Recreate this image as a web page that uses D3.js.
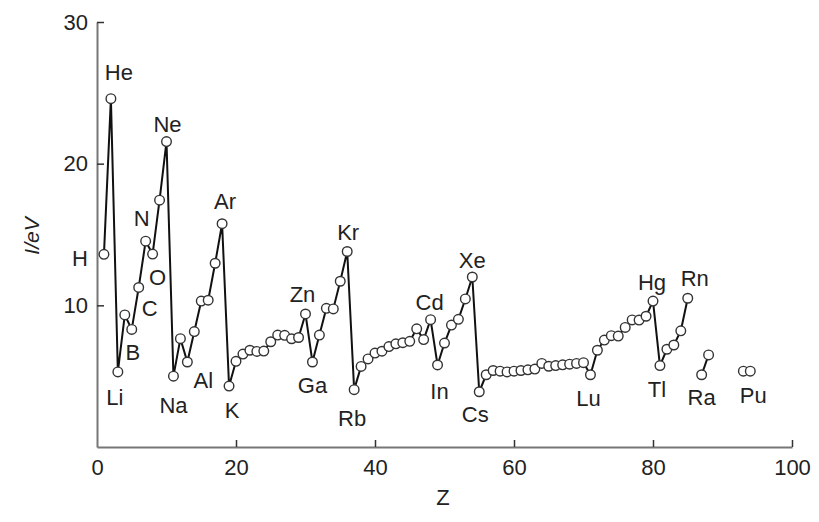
<!DOCTYPE html>
<html>
<head>
<meta charset="utf-8">
<script src="https://cdn.jsdelivr.net/npm/d3@7"></script>
<style>
  html, body { margin: 0; padding: 0; background: #fff; }
  svg { display: block; }
  text { font-family: "Liberation Sans", Arial, sans-serif; fill: #222; }
</style>
</head>
<body>
<svg id="chart" width="819" height="522"></svg>
<script>
// ---- Data ----
// Main series: atomic number Z and first ionization energy I (eV)
const mainZ = [1,2,3,4,5,6,7,8,9,10,
  11,12,13,14,15,16,17,18,19,20,
  21,22,23,24,25,26,27,28,29,30,
  31,32,33,34,35,36,37,38,39,40,
  41,42,43,44,45,46,47,48,49,50,
  51,52,53,54,55,56,57,58,59,60,
  61,62,63,64,65,66,67,68,69,70,
  71,72,73,74,75,76,77,78,79,80,
  81,82,83,84,85];
const mainI = [13.6,24.59,5.3,9.32,8.3,11.26,14.53,13.62,17.42,21.56,
  5.0,7.65,6.0,8.15,10.3,10.36,12.97,15.76,4.3,6.05,
  6.56,6.83,6.75,6.77,7.43,7.9,7.88,7.64,7.73,9.39,
  6.0,7.9,9.79,9.75,11.7,13.8,4.05,5.69,6.22,6.63,
  6.76,7.09,7.28,7.36,7.46,8.34,7.58,8.99,5.79,7.34,
  8.61,9.01,10.45,12.0,3.9,5.1,5.4,5.35,5.3,5.35,
  5.4,5.45,5.5,5.9,5.7,5.75,5.8,5.85,5.9,5.95,
  5.1,6.83,7.55,7.86,7.83,8.44,8.97,8.96,9.23,10.3,
  5.75,6.9,7.2,8.2,10.5];
// Isolated pairs
const pairAZ = [87, 88];
const pairAI = [5.1, 6.5];
const pairBZ = [93, 94];
const pairBI = [5.35, 5.35];

// Element labels and the Z of the point each belongs to
const labelText = ["H","He","Li","B","C","N","O","Ne","Na","Al","Ar","K",
  "Zn","Ga","Kr","Rb","Cd","In","Xe","Cs","Lu","Hg","Tl","Rn","Ra","Pu"];
const labelZ = [1,2,3,5,6,7,8,10,11,13,18,19,
  30,31,36,37,48,49,54,55,71,80,81,85,88,94];

// Axis ticks
const xTicks = [0,20,40,60,80,100];
const yTicks = [10,20,30];

// ---- Drawing ----
const svg = d3.select("#chart");
const x = d3.scaleLinear().domain([0,100]).range([97,792]);
const y = d3.scaleLinear().domain([0,30]).range([447,22]);

// label offsets (px) relative to their point (text centre)
const labelOffset = {
  H:[-24,4], He:[8,-26], Li:[-3,26], B:[1,23], C:[11,21], N:[-4,-23], O:[5,23],
  Ne:[1,-17], Na:[0,29], Al:[16,18], Ar:[3,-22], K:[3,24], Zn:[-3,-19],
  Ga:[0,23], Kr:[1,-19], Rb:[-2,29], Cd:[-1,-17], In:[2,27], Xe:[0,-17],
  Cs:[-4,23], Lu:[-2,24], Hg:[-1,-19], Tl:[-3,24], Rn:[7,-20], Ra:[-7,43], Pu:[3,24]
};

// axes
const yAxis = d3.axisLeft(y).tickValues(yTicks).tickSizeInner(-7).tickSizeOuter(0).tickPadding(9);
const xAxis = d3.axisBottom(x).tickValues(xTicks).tickSizeInner(-7).tickSizeOuter(0).tickPadding(12);

const gy = svg.append("g").attr("transform", `translate(${x(0)},0)`).call(yAxis);
const gx = svg.append("g").attr("transform", `translate(0,${y(0)})`).call(xAxis);
[gx, gy].forEach(g => {
  g.select(".domain").attr("stroke", "#777").attr("stroke-width", 2);
  g.selectAll(".tick line").attr("stroke", "#333").attr("stroke-width", 1.5);
  g.selectAll(".tick text").style("font-size", "22px")
    .style("font-family", '"Liberation Sans", Arial, sans-serif').attr("fill", "#222");
});
gx.selectAll(".tick").filter(d => d === 0).select("line").remove();

// axis titles
svg.append("text").attr("x", 443).attr("y", 497).attr("text-anchor", "middle")
  .attr("dominant-baseline", "central").style("font-size", "22px").text("Z");
svg.append("text").attr("transform", "translate(31,236) rotate(-90)")
  .attr("text-anchor", "middle").attr("dominant-baseline", "central")
  .style("font-size", "21px").style("font-style", "italic").text("I/eV");

// series
const series = [
  {z: mainZ, v: mainI},
  {z: pairAZ, v: pairAI},
  {z: pairBZ, v: pairBI}
];
const line = d3.line().x(d => x(d[0])).y(d => y(d[1]));
series.forEach(s => {
  const pts = s.z.map((z, i) => [z, s.v[i]]);
  svg.append("path").datum(pts).attr("d", line)
    .attr("fill", "none").attr("stroke", "#111").attr("stroke-width", 2)
    .attr("stroke-linejoin", "round");
});
series.forEach(s => {
  const pts = s.z.map((z, i) => [z, s.v[i]]);
  svg.append("g").selectAll("circle").data(pts).join("circle")
    .attr("cx", d => x(d[0])).attr("cy", d => y(d[1])).attr("r", 4.8)
    .attr("fill", "#fff").attr("stroke", "#333").attr("stroke-width", 1.4);
});

// element labels
const allZ = mainZ.concat(pairAZ, pairBZ);
const allI = mainI.concat(pairAI, pairBI);
labelText.forEach((t, i) => {
  const idx = allZ.indexOf(labelZ[i]);
  const off = labelOffset[t] || [0,0];
  svg.append("text")
    .attr("x", x(allZ[idx]) + off[0])
    .attr("y", y(allI[idx]) + off[1])
    .attr("text-anchor", "middle").attr("dominant-baseline", "central")
    .style("font-size", "22px").text(t);
});
</script>
</body>
</html>
